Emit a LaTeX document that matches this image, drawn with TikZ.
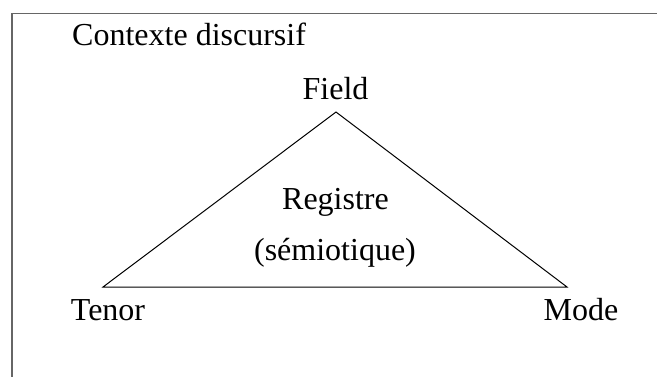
\documentclass[tikz,border=0pt]{standalone}
\usepackage{fontspec}
\setmainfont{Liberation Serif}
\tikzset{
  lbl/.style={anchor=base, inner sep=0pt, font=\fontsize{32}{38}\selectfont},
  frame/.style={draw=black!60, line width=1.5pt},
  tri/.style={draw=black, line width=1pt}
}
\begin{document}
\begin{tikzpicture}[x=1pt,y=-1pt]
\useasboundingbox (0,0) rectangle (657,376);
\clip (0,0) rectangle (657,376);
\draw[frame] (12,13.5) rectangle (680,400);
\node[lbl, anchor=base west] (ctx) at (72,45) {Contexte discursif};
\coordinate (apex) at (336,112);
\coordinate (bl) at (103,287);
\coordinate (br) at (567,287);
\draw[tri] (apex) -- (bl) -- (br) -- cycle;
\node[lbl] (field) at (335.5,99) {Field};
\node[lbl] (tenor) at (108,320) {Tenor};
\node[lbl] (mode) at (581,320) {Mode};
\node[lbl] (reg) at (335.5,209) {Registre};
\node[lbl] (sem) at (335,260) {(sémiotique)};
\end{tikzpicture}
\end{document}
